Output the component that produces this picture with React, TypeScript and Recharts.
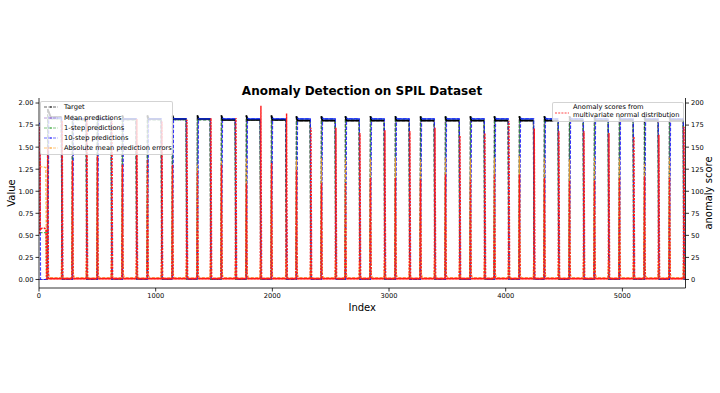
import React from 'react';
import { ComposedChart, Line, XAxis, YAxis } from 'recharts';

// ---- data ----
const pulseStart = [71, 283, 497, 711, 926, 1140, 1354, 1560, 1774, 1989, 2203, 2417, 2623, 2837, 3051, 3266, 3480, 3694, 3900, 4114, 4328, 4543, 4757, 4971, 5186, 5400];
const pulseEnd = [191, 403, 617, 831, 1046, 1260, 1466, 1680, 1894, 2114, 2323, 2537, 2743, 2957, 3171, 3386, 3600, 3814, 4020, 4237, 4448, 4663, 4877, 5091, 5305, 5520];
const targetLevel = [1.84, 1.82, 1.82, 1.82, 1.82, 1.82, 1.82, 1.81, 1.81, 1.81, 1.80, 1.80, 1.80, 1.80, 1.80, 1.80, 1.80, 1.80, 1.80, 1.80, 1.80, 1.80, 1.80, 1.81, 1.81, 1.81];
const targetPeak = [1.93, 1.86, 1.86, 1.86, 1.86, 1.86, 1.86, 1.86, 1.86, 1.86, 1.85, 1.85, 1.85, 1.85, 1.85, 1.85, 1.85, 1.85, 1.85, 1.85, 1.85, 1.85, 1.85, 1.85, 1.85, 1.85];
const predLevel = [1.83, 1.82, 1.82, 1.82, 1.82, 1.82, 1.82, 1.82, 1.82, 1.82, 1.82, 1.82, 1.82, 1.82, 1.82, 1.82, 1.82, 1.82, 1.82, 1.82, 1.82, 1.82, 1.82, 1.82, 1.82, 1.82];
const errorRise = [0.12, 1.2, 1.2, 1.22, 1.2, 1.25, 1.3, 1.35, 1.38, 1.3, 1.36, 1.38, 1.38, 1.37, 1.38, 1.36, 1.38, 1.37, 1.38, 1.4, 1.38, 1.36, 1.39, 1.37, 1.32, 1.38];
const errorFall = [0.2, 0.25, 0.22, 0.25, 0.2, 0.24, 0.25, 0.22, 0.25, 0.24, 0.22, 0.25, 0.2, 0.24, 0.22, 0.25, 0.22, 0.24, 0.22, 0.25, 0.22, 0.24, 0.22, 0.25, 0.22, 0.24];
const scoreRise = [150, 135, 140, 130, 135, 130, 123, 130, 109, 132, 124, 109, 110, 115, 115, 113, 119, 113, 119, 119, 115, 112, 112, 115, 117, 115];
const scoreFall = [180, 183, 180, 182, 179, 181, 183, 183, 197, 188, 172, 172, 166, 169, 168, 172, 163, 166, 180, 171, 168, 168, 166, 162, 164, 173];
const scoreBase = 1;

// initial start-up segments (index, value)
const initTarget = [[0, 0], [66, 0]];
const initMean = [[0, 0]];
const initOneStep = [[0, 0.53], [62, 0.53], [66, 0]];
const initTenStep = [[0, 1.77], [9, 1.77], [13, 0]];
const initError = [[0, 1.34], [4, 1.3], [12, 1.28], [58, 1.27], [64, 0.03]];
const initScore = [[0, 52], [7, 54], [9, 173], [11, 56], [25, 58], [50, 58], [60, 56], [64, 1]];

const xEnd = 5541;
const xTicks = [0, 1000, 2000, 3000, 4000, 5000];
const leftTicks = [0, 0.25, 0.5, 0.75, 1.0, 1.25, 1.5, 1.75, 2.0];
const rightTicks = [0, 25, 50, 75, 100, 125, 150, 175, 200];

const legendNames = ['Target', 'Mean predictions', '1-step predictions', '10-step predictions', 'Absolute mean prediction errors'];
const anomalyName = ['Anomaly scores from', 'multivariate normal distribution'];
const colors = ['#000000', '#8c5cc0', '#2ca02c', '#1010ff', '#ffa020'];
const anomalyColor = '#ff1a1a';

// ---- tables for the library ----
type P = { x: number; y: number | null };
const toPts = (a: number[][]): P[] => a.map(([x, y]) => ({ x, y }));

const target: P[] = toPts(initTarget);
const mean: P[] = toPts(initMean);
const oneStep: P[] = toPts(initOneStep);
const tenStep: P[] = toPts(initTenStep);
const error: P[] = toPts(initError);
const score: P[] = toPts(initScore);
// dense (solid-looking) plateau parts
const targetFlat: P[] = [];
const tenStepFlat: P[] = [];
const scoreFlat: P[] = [{ x: 64, y: scoreBase }];

pulseStart.forEach((s, i) => {
  const e = pulseEnd[i];
  const settle = s + (i === 0 ? 30 : 12);
  target.push({ x: s, y: 0 }, { x: s + 3, y: targetPeak[i] }, { x: settle, y: targetLevel[i] }, { x: e, y: targetLevel[i] }, { x: e + 6, y: 0 });
  mean.push({ x: s + 2, y: 0 }, { x: s + 7, y: predLevel[i] + 0.02 }, { x: s + 14, y: predLevel[i] - 0.01 }, { x: e + 2, y: predLevel[i] - 0.01 }, { x: e + 8, y: 0 });
  oneStep.push({ x: s + 1, y: 0 }, { x: s + 5, y: predLevel[i] + 0.03 }, { x: s + 12, y: predLevel[i] - 0.01 }, { x: e + 1, y: predLevel[i] - 0.01 }, { x: e + 7, y: 0 });
  tenStep.push({ x: s + 5, y: 0 }, { x: s + 13, y: predLevel[i] + 0.01 }, { x: s + 20, y: predLevel[i] }, { x: e + 3, y: predLevel[i] }, { x: e + 11, y: 0 });
  error.push({ x: s - 4, y: 0.02 }, { x: s + 4, y: errorRise[i] }, { x: s + 12, y: 0.06 }, { x: s + 22, y: 0.02 }, { x: e - 2, y: 0.02 }, { x: e + 5, y: errorFall[i] }, { x: e + 12, y: 0.04 }, { x: e + 24, y: 0.015 });
  score.push({ x: s - 2, y: scoreBase }, { x: s + 4, y: scoreRise[i] }, { x: s + 10, y: scoreBase }, { x: e + 2, y: scoreBase }, { x: e + 8, y: scoreFall[i] }, { x: e + 14, y: scoreBase });

  targetFlat.push({ x: s + 3, y: targetPeak[i] }, { x: settle, y: targetLevel[i] }, { x: e, y: targetLevel[i] }, { x: e + 1, y: null });
  tenStepFlat.push({ x: s + 13, y: predLevel[i] + 0.01 }, { x: s + 20, y: predLevel[i] }, { x: e + 3, y: predLevel[i] }, { x: e + 4, y: null });
  scoreFlat.push({ x: s - 2, y: scoreBase }, { x: s - 1, y: null }, { x: s + 10, y: scoreBase }, { x: e + 2, y: scoreBase }, { x: e + 3, y: null }, { x: e + 14, y: scoreBase });
});
target.push({ x: xEnd, y: 0 });
mean.push({ x: xEnd, y: 0 });
oneStep.push({ x: xEnd, y: 0 });
tenStep.push({ x: xEnd, y: 0 });
error.push({ x: xEnd, y: 0.015 });
score.push({ x: xEnd, y: scoreBase });
scoreFlat.push({ x: xEnd, y: scoreBase });

const seriesData = [target, mean, oneStep, tenStep, error];

const FONT = '"DejaVu Sans", sans-serif';
const tickStyle = { fontSize: 6.7, fill: '#000', fontFamily: FONT };

export default function App() {
  return (
    <div style={{ position: 'absolute', left: 0, top: 0, width: 720, height: 393, background: '#fff', fontFamily: FONT }}>
      <div style={{ position: 'absolute', left: 0, width: 724, top: 84, textAlign: 'center', fontSize: 12, fontWeight: 'bold', color: '#000', lineHeight: '14px' }}>
        Anomaly Detection on SPIL Dataset
      </div>
      <ComposedChart width={720} height={393} margin={{ top: 98, right: 0, bottom: 80, left: 0 }}>
        <XAxis
          xAxisId="x" type="number" dataKey="x" domain={[0, xEnd]} allowDataOverflow ticks={xTicks}
          tick={tickStyle} tickSize={3.5} tickMargin={2} height={25}
          axisLine={{ stroke: '#000', strokeWidth: 0.8 }} tickLine={{ stroke: '#000', strokeWidth: 0.8 }}
          label={{
            content: (p: any) => {
              const vb = p.viewBox;
              return <text x={vb.x + vb.width / 2} y={vb.y + 19.5} textAnchor="middle" dominantBaseline="central" fontSize={10} fontFamily={FONT} fill="#000">Index</text>;
            },
          }}
        />
        <XAxis xAxisId="top" orientation="top" type="number" domain={[0, xEnd]} allowDataOverflow tick={false} tickLine={false} height={0} axisLine={{ stroke: '#000', strokeWidth: 0.8 }} />
        <YAxis
          yAxisId="left" type="number" domain={[-0.0966, 2.057]} allowDataOverflow ticks={leftTicks}
          tickFormatter={(v: number) => v.toFixed(2)} tick={tickStyle} tickSize={3.5} tickMargin={2} width={39}
          axisLine={{ stroke: '#000', strokeWidth: 0.8 }} tickLine={{ stroke: '#000', strokeWidth: 0.8 }}
          label={{
            content: (p: any) => {
              const vb = p.viewBox;
              const cx = vb.x + 11.5, cy = vb.y + vb.height / 2;
              return <text x={cx} y={cy} transform={`rotate(-90 ${cx} ${cy})`} textAnchor="middle" dominantBaseline="central" fontSize={10} fontFamily={FONT} fill="#000">Value</text>;
            },
          }}
        />
        <YAxis
          yAxisId="right" orientation="right" type="number" domain={[-9.66, 205.7]} allowDataOverflow ticks={rightTicks}
          tick={tickStyle} tickSize={3.5} tickMargin={2} width={34.5}
          axisLine={{ stroke: '#000', strokeWidth: 0.8 }} tickLine={{ stroke: '#000', strokeWidth: 0.8 }}
          label={{
            content: (p: any) => {
              const vb = p.viewBox;
              const cx = vb.x + 23, cy = vb.y + vb.height / 2;
              return <text x={cx} y={cy} transform={`rotate(-90 ${cx} ${cy})`} textAnchor="middle" dominantBaseline="central" fontSize={10} fontFamily={FONT} fill="#000">anomaly score</text>;
            },
          }}
        />
        {seriesData.map((d, i) => (
          <Line
            key={legendNames[i]} xAxisId="x" yAxisId="left" data={d} dataKey="y" type="linear"
            stroke={colors[i]} strokeWidth={1.2} strokeOpacity={i === 0 ? 0.9 : 0.8}
            strokeDasharray={i === 4 ? '3 1.5' : '3.5 1.5'} dot={false} isAnimationActive={false}
          />
        ))}
        <Line xAxisId="x" yAxisId="left" data={targetFlat} dataKey="y" type="linear" stroke="#000" strokeWidth={1.8} dot={false} isAnimationActive={false} />
        <Line xAxisId="x" yAxisId="left" data={tenStepFlat} dataKey="y" type="linear" stroke="#1030f0" strokeWidth={1.4} dot={false} isAnimationActive={false} />
        <Line
          xAxisId="x" yAxisId="right" data={score} dataKey="y" type="linear"
          stroke={anomalyColor} strokeWidth={1.4} strokeDasharray="2 1.2" dot={false} isAnimationActive={false}
        />
        <Line xAxisId="x" yAxisId="right" data={scoreFlat} dataKey="y" type="linear" stroke={anomalyColor} strokeWidth={1.8} dot={false} isAnimationActive={false} />
      </ComposedChart>
      {/* left legend */}
      <div style={{ position: 'absolute', left: 40, top: 101, width: 133, height: 54, background: 'rgba(255,255,255,0.8)', border: '1px solid rgba(200,200,200,0.8)', borderRadius: 2, boxSizing: 'border-box' }}>
        {legendNames.map((n, i) => (
          <div key={n} style={{ position: 'absolute', left: 2, top: 0.3 + i * 10.2, height: 10, display: 'flex', alignItems: 'center' }}>
            <svg width={16} height={10} style={{ display: 'block' }}>
              <line x1={1} y1={5} x2={15} y2={5} stroke={colors[i]} strokeOpacity={0.6} strokeWidth={1} strokeDasharray="3 1.5" />
              <circle cx={8} cy={5} r={1} fill={colors[i]} fillOpacity={0.6} />
            </svg>
            <span style={{ marginLeft: 5, fontSize: 6.7, color: '#000', whiteSpace: 'nowrap', lineHeight: '10px' }}>{n}</span>
          </div>
        ))}
      </div>
      {/* right legend */}
      <div style={{ position: 'absolute', left: 552, top: 102, width: 132, height: 20, background: 'rgba(255,255,255,0.8)', border: '1px solid rgba(200,200,200,0.8)', borderRadius: 2, boxSizing: 'border-box' }}>
        <svg width={16} height={10} style={{ position: 'absolute', left: 1, top: 4.5 }}>
          <line x1={1} y1={5} x2={15} y2={5} stroke={anomalyColor} strokeOpacity={0.8} strokeWidth={1} strokeDasharray="2 1.2" />
        </svg>
        <div style={{ position: 'absolute', left: 20, top: 1, fontSize: 6.7, lineHeight: '7.6px', color: '#000', whiteSpace: 'nowrap' }}>
          {anomalyName.map((t) => (<div key={t}>{t}</div>))}
        </div>
      </div>
    </div>
  );
}
